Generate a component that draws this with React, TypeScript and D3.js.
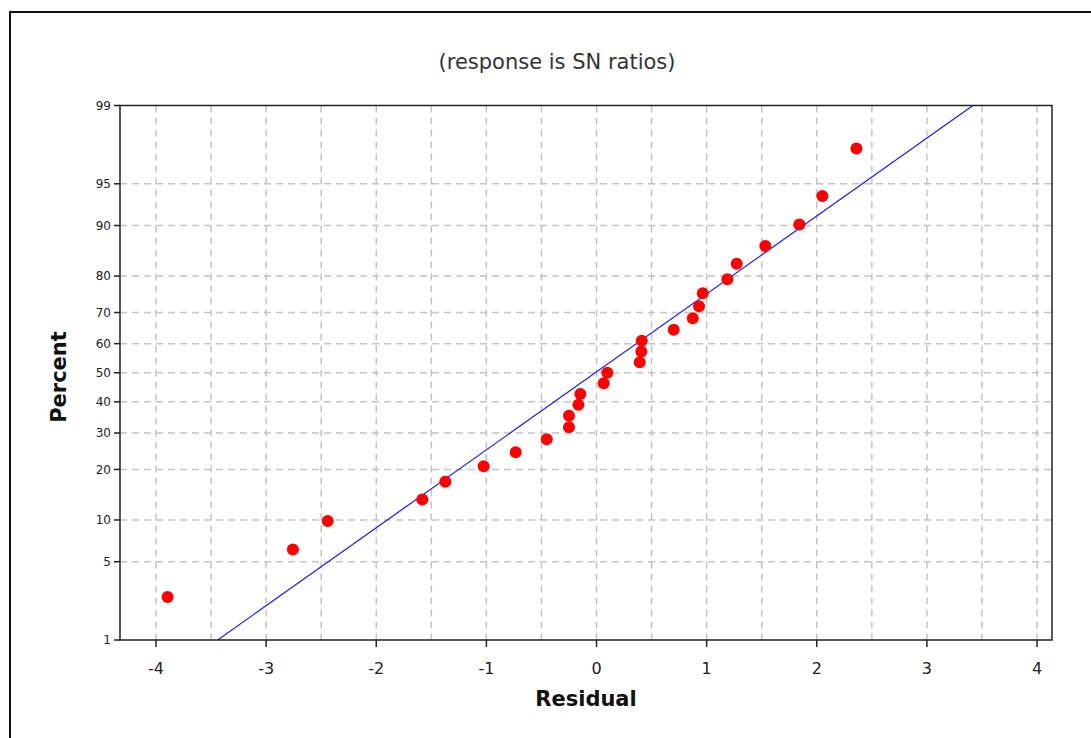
import React, { useEffect, useRef } from "react";
import * as d3 from "d3";

// residuals, sorted
const residuals = [
  -3.895, -2.757, -2.441, -1.582, -1.373, -1.025, -0.734, -0.452, -0.25, -0.25,
  -0.165, -0.147, 0.065, 0.098, 0.392, 0.407, 0.411, 0.701, 0.874, 0.931, 0.965,
  1.188, 1.273, 1.533, 1.842, 2.051, 2.36,
];

// plotting position (percent) of each point
const percents = [
  2.55, 6.2, 9.85, 13.5, 17.15, 20.8, 24.45, 28.1, 31.75, 35.4, 39.05, 42.7,
  46.35, 50.0, 53.65, 57.3, 60.95, 64.6, 68.25, 71.9, 75.55, 79.2, 82.85, 86.5,
  90.15, 93.8, 97.45,
];

const xTicks = [-4, -3, -2, -1, 0, 1, 2, 3, 4];
const xGrid = [-4, -3.5, -3, -2.5, -2, -1.5, -1, -0.5, 0, 0.5, 1, 1.5, 2, 2.5, 3, 3.5, 4];
const yTicks = [1, 5, 10, 20, 30, 40, 50, 60, 70, 80, 90, 95, 99];
const yGrid = [5, 10, 20, 30, 40, 50, 60, 70, 80, 90, 95];

// fitted normal line
const lineMean = -0.011;
const lineSd = 1.474;

const W = 1091;
const H = 738;
const m = { left: 120, top: 105.5, right: 1052, bottom: 640 };
const FONT = "'DejaVu Sans', Verdana, sans-serif";

// inverse normal cdf (Acklam)
const invNorm = (p: number) => {
  const a = [-39.69683028665376, 220.9460984245205, -275.9285104469687, 138.357751867269, -30.66479806614716, 2.506628277459239];
  const b = [-54.47609879822406, 161.5858368580409, -155.6989798598866, 66.80131188771972, -13.28068155288572];
  const c = [-0.007784894002430293, -0.3223964580411365, -2.400758277161838, -2.549732539343734, 4.374664141464968, 2.938163982698783];
  const d = [0.007784695709041462, 0.3224671290700398, 2.445134137142996, 3.754408661907416];
  const pl = 0.02425;
  if (p < pl) {
    const q = Math.sqrt(-2 * Math.log(p));
    return (((((c[0] * q + c[1]) * q + c[2]) * q + c[3]) * q + c[4]) * q + c[5]) /
      ((((d[0] * q + d[1]) * q + d[2]) * q + d[3]) * q + 1);
  }
  if (p > 1 - pl) {
    const q = Math.sqrt(-2 * Math.log(1 - p));
    return -(((((c[0] * q + c[1]) * q + c[2]) * q + c[3]) * q + c[4]) * q + c[5]) /
      ((((d[0] * q + d[1]) * q + d[2]) * q + d[3]) * q + 1);
  }
  const q = p - 0.5;
  const r = q * q;
  return (((((a[0] * r + a[1]) * r + a[2]) * r + a[3]) * r + a[4]) * r + a[5]) * q /
    (((((b[0] * r + b[1]) * r + b[2]) * r + b[3]) * r + b[4]) * r + 1);
};

const App: React.FC = () => {
  const svgRef = useRef(null);

  useEffect(() => {
    document.body.style.margin = "0";
    const svg = d3.select(svgRef.current).attr("width", W).attr("height", H);

    const xScale = d3.scaleLinear().domain([-4.327, 4.136]).range([m.left, m.right]);
    const zScale = d3
      .scaleLinear()
      .domain([invNorm(0.01), invNorm(0.99)])
      .range([m.bottom, m.top]);
    const yScale = (pct: number) => zScale(invNorm(pct / 100));

    // outer frame
    svg
      .append("rect")
      .attr("x", 10)
      .attr("y", 12)
      .attr("width", 1200)
      .attr("height", 900)
      .attr("fill", "white")
      .attr("stroke", "#111")
      .attr("stroke-width", 2);

    svg
      .append("text")
      .attr("x", 557)
      .attr("y", 69)
      .attr("text-anchor", "middle")
      .style("font-family", FONT)
      .style("font-size", "21px")
      .attr("fill", "#333")
      .text("(response is SN ratios)");

    // grid
    const grid = svg
      .append("g")
      .attr("stroke", "#c4c4c4")
      .attr("stroke-width", 1.5)
      .attr("stroke-dasharray", "7,5");
    grid
      .selectAll("line.v")
      .data(xGrid)
      .enter()
      .append("line")
      .attr("x1", (d) => xScale(d))
      .attr("x2", (d) => xScale(d))
      .attr("y1", m.top)
      .attr("y2", m.bottom);
    grid
      .selectAll("line.h")
      .data(yGrid)
      .enter()
      .append("line")
      .attr("x1", m.left)
      .attr("x2", m.right)
      .attr("y1", (d) => yScale(d))
      .attr("y2", (d) => yScale(d));

    // fitted line
    svg
      .append("line")
      .attr("x1", xScale(lineMean + lineSd * invNorm(0.01)))
      .attr("y1", yScale(1))
      .attr("x2", xScale(lineMean + lineSd * invNorm(0.99)))
      .attr("y2", yScale(99))
      .attr("stroke", "#1a1aff")
      .attr("stroke-width", 1.2);

    // points
    svg
      .selectAll("circle.pt")
      .data(residuals)
      .enter()
      .append("circle")
      .attr("cx", (d) => xScale(d))
      .attr("cy", (d, i) => yScale(percents[i]))
      .attr("r", 6)
      .attr("fill", "#ff0000");

    // plot border
    svg
      .append("rect")
      .attr("x", m.left)
      .attr("y", m.top)
      .attr("width", m.right - m.left)
      .attr("height", m.bottom - m.top)
      .attr("fill", "none")
      .attr("stroke", "#222")
      .attr("stroke-width", 1.5);

    // x axis
    const xAxis = svg.append("g");
    xAxis
      .selectAll("line")
      .data(xTicks)
      .enter()
      .append("line")
      .attr("x1", (d) => xScale(d))
      .attr("x2", (d) => xScale(d))
      .attr("y1", m.bottom)
      .attr("y2", m.bottom + 7)
      .attr("stroke", "#222")
      .attr("stroke-width", 1.5);
    xAxis
      .selectAll("text")
      .data(xTicks)
      .enter()
      .append("text")
      .attr("x", (d) => xScale(d))
      .attr("y", 674)
      .attr("text-anchor", "middle")
      .style("font-family", FONT)
      .style("font-size", "16px")
      .attr("fill", "#222")
      .text((d) => (d < 0 ? "-" + Math.abs(d) : String(d)));

    // y axis
    const yAxis = svg.append("g");
    yAxis
      .selectAll("line")
      .data(yTicks)
      .enter()
      .append("line")
      .attr("x1", m.left - 6)
      .attr("x2", m.left)
      .attr("y1", (d) => yScale(d))
      .attr("y2", (d) => yScale(d))
      .attr("stroke", "#222")
      .attr("stroke-width", 1.5);
    yAxis
      .selectAll("text")
      .data(yTicks)
      .enter()
      .append("text")
      .attr("x", m.left - 9)
      .attr("y", (d) => yScale(d))
      .attr("dy", "0.35em")
      .attr("text-anchor", "end")
      .style("font-family", FONT)
      .style("font-size", "12px")
      .attr("fill", "#222")
      .text((d) => d);

    svg
      .append("text")
      .attr("x", 586)
      .attr("y", 706)
      .attr("text-anchor", "middle")
      .style("font-family", FONT)
      .style("font-size", "21px")
      .style("font-weight", "bold")
      .attr("fill", "#111")
      .text("Residual");

    svg
      .append("text")
      .attr("transform", "translate(66, 377) rotate(-90)")
      .attr("text-anchor", "middle")
      .style("font-family", FONT)
      .style("font-size", "21px")
      .style("font-weight", "bold")
      .attr("fill", "#111")
      .text("Percent");

    return () => {
      svg.selectAll("*").remove();
    };
  }, []);

  return <svg ref={svgRef} style={{ display: "block" }} />;
};

export default App;
